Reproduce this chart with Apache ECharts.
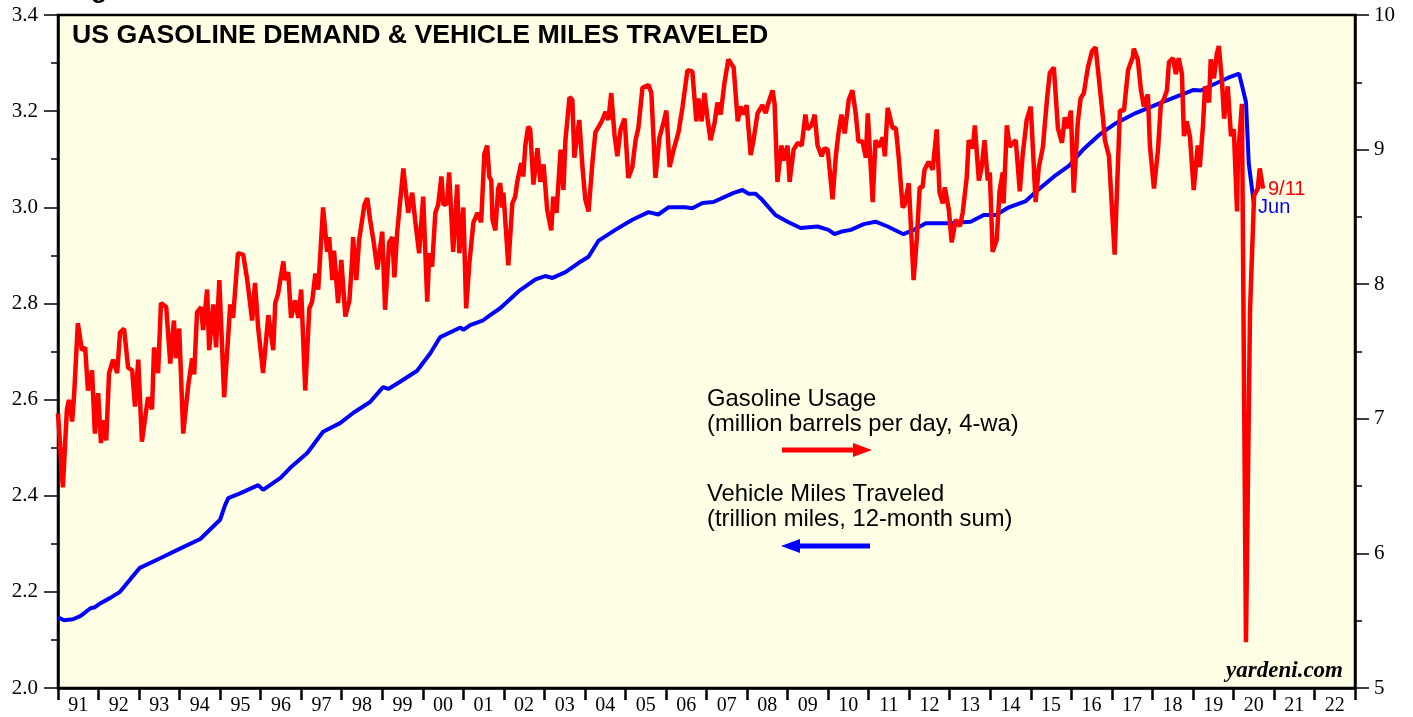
<!DOCTYPE html>
<html>
<head>
<meta charset="utf-8">
<title>US Gasoline Demand & Vehicle Miles Traveled</title>
<script src="https://cdn.jsdelivr.net/npm/echarts@6.0.0/dist/echarts.min.js"></script>
<style>
  html, body { margin: 0; padding: 0; background: #fff; }
  #chart { width: 1413px; height: 717px; }
</style>
</head>
<body>
<div id="chart"></div>
<script>
// year labels shown under the axis (one per band)
const yearLabels = ['91','92','93','94','95','96','97','98','99','00','01','02','03','04','05','06',
  '07','08','09','10','11','12','13','14','15','16','17','18','19','20','21','22']

// vehicle miles traveled, trillion miles, 12-month sum (left axis)
const milesData = [
  [1991.00,2.147],[1991.15,2.141],[1991.37,2.143],[1991.56,2.150],[1991.80,2.166],[1991.91,2.168],
  [1992.04,2.176],[1992.30,2.188],[1992.53,2.200],[1992.80,2.228],[1993.02,2.250],[1993.52,2.270],[1994.01,2.290],[1994.51,2.310],
  [1995.00,2.350],[1995.12,2.380],[1995.20,2.395],[1995.49,2.405],[1995.94,2.422],[1996.06,2.412],
  [1996.49,2.437],[1996.73,2.458],[1997.15,2.489],[1997.54,2.533],[1997.96,2.551],[1998.28,2.572],
  [1998.70,2.595],[1999.02,2.626],[1999.15,2.622],[1999.44,2.637],[1999.86,2.660],[2000.19,2.697],
  [2000.43,2.730],[2000.93,2.750],[2001.00,2.745],[2001.17,2.755],[2001.49,2.765],[2001.67,2.776],
  [2001.91,2.790],[2002.36,2.825],[2002.78,2.850],[2003.02,2.857],[2003.20,2.853],[2003.52,2.865],
  [2003.84,2.884],[2004.09,2.897],[2004.33,2.930],[2004.75,2.953],[2005.17,2.974],[2005.57,2.990],
  [2005.81,2.985],[2006.06,3.000],[2006.48,3.000],[2006.65,2.998],[2006.90,3.009],[2007.17,3.011],
  [2007.67,3.030],[2007.89,3.036],[2008.04,3.028],[2008.21,3.028],[2008.38,3.015],[2008.70,2.984],
  [2009.00,2.970],[2009.32,2.957],[2009.74,2.960],[2010.01,2.953],[2010.16,2.944],[2010.31,2.949],
  [2010.56,2.953],[2010.88,2.965],[2011.17,2.970],[2011.47,2.960],[2011.86,2.944],[2012.11,2.953],
  [2012.41,2.967],[2012.98,2.967],[2013.52,2.970],[2013.84,2.984],[2014.14,2.984],[2014.46,3.000],
  [2014.88,3.013],[2015.12,3.032],[2015.62,3.067],[2015.94,3.086],[2016.28,3.119],[2016.68,3.150],
  [2017.10,3.175],[2017.59,3.196],[2018.28,3.220],[2019.02,3.244],[2019.20,3.243],[2019.52,3.256],
  [2019.86,3.269],[2020.14,3.278],[2020.31,3.219],[2020.38,3.090],[2020.51,3.005]
]

// gasoline usage, million barrels per day, 4-wa (right axis)
const gasData = [
  [1991.00,7.04],[1991.12,6.49],[1991.22,7.07],[1991.27,7.14],[1991.35,6.98],[1991.40,7.19],[1991.49,7.71],
  [1991.59,7.51],[1991.67,7.53],[1991.74,7.21],[1991.84,7.36],[1991.91,6.89],[1991.99,7.19],[1992.06,6.82],
  [1992.11,6.99],[1992.19,6.84],[1992.26,7.34],[1992.36,7.44],[1992.46,7.34],[1992.53,7.64],[1992.63,7.67],
  [1992.73,7.38],[1992.83,7.36],[1992.90,7.09],[1992.98,7.44],[1993.07,6.83],[1993.22,7.16],[1993.32,7.07],
  [1993.37,7.53],[1993.47,7.34],[1993.54,7.86],[1993.67,7.83],[1993.77,7.41],[1993.86,7.73],[1993.91,7.45],
  [1993.99,7.67],[1994.09,6.89],[1994.21,7.24],[1994.31,7.45],[1994.36,7.33],[1994.43,7.79],[1994.53,7.83],
  [1994.58,7.66],[1994.68,7.96],[1994.73,7.51],[1994.83,7.85],[1994.90,7.53],[1994.98,8.03],[1995.10,7.16],
  [1995.25,7.85],[1995.32,7.75],[1995.44,8.23],[1995.57,8.22],[1995.67,8.03],[1995.79,7.73],[1995.86,8.01],
  [1995.94,7.67],[1996.06,7.34],[1996.19,7.77],[1996.31,7.51],[1996.36,7.86],[1996.43,7.93],[1996.56,8.17],
  [1996.60,8.03],[1996.68,8.09],[1996.75,7.75],[1996.85,7.88],[1996.93,7.75],[1997.00,7.96],[1997.10,7.21],
  [1997.20,7.82],[1997.27,7.87],[1997.35,8.08],[1997.42,7.96],[1997.54,8.57],[1997.64,8.24],[1997.69,8.35],
  [1997.77,8.03],[1997.81,8.25],[1997.91,7.86],[1997.99,8.18],[1998.09,7.76],[1998.19,7.88],[1998.26,8.20],
  [1998.28,8.35],[1998.36,8.03],[1998.43,8.33],[1998.56,8.59],[1998.63,8.64],[1998.70,8.48],[1998.78,8.33],
  [1998.88,8.11],[1999.00,8.39],[1999.07,7.81],[1999.17,8.31],[1999.25,8.35],[1999.30,8.05],[1999.37,8.39],
  [1999.52,8.86],[1999.57,8.72],[1999.64,8.53],[1999.74,8.68],[1999.81,8.48],[1999.91,8.23],[2000.01,8.65],
  [2000.11,7.87],[2000.16,8.23],[2000.23,8.13],[2000.31,8.53],[2000.38,8.59],[2000.46,8.80],[2000.51,8.59],
  [2000.60,8.60],[2000.65,8.83],[2000.75,8.24],[2000.85,8.74],[2000.90,8.23],[2001.00,8.57],[2001.07,7.82],
  [2001.15,8.16],[2001.25,8.46],[2001.35,8.53],[2001.44,8.46],[2001.52,8.97],[2001.59,9.03],[2001.64,8.80],
  [2001.69,8.77],[2001.72,8.48],[2001.79,8.40],[2001.86,8.71],[2001.91,8.75],[2001.96,8.57],[2001.99,8.68],
  [2002.11,8.14],[2002.21,8.60],[2002.28,8.65],[2002.33,8.76],[2002.43,8.90],[2002.48,8.80],[2002.53,9.03],
  [2002.60,9.17],[2002.65,9.15],[2002.73,8.74],[2002.83,9.01],[2002.90,8.76],[2002.98,8.89],[2003.07,8.55],
  [2003.17,8.40],[2003.22,8.65],[2003.30,8.53],[2003.40,9.00],[2003.47,8.70],[2003.52,9.07],[2003.62,9.39],
  [2003.69,9.37],[2003.74,8.94],[2003.86,9.22],[2003.94,8.87],[2004.01,8.63],[2004.09,8.54],[2004.19,8.92],
  [2004.26,9.13],[2004.36,9.18],[2004.43,9.22],[2004.51,9.28],[2004.58,9.22],[2004.65,9.42],[2004.73,9.11],
  [2004.80,8.95],[2004.88,9.15],[2004.98,9.23],[2005.07,8.79],[2005.17,8.87],[2005.25,9.07],[2005.32,9.16],
  [2005.42,9.46],[2005.57,9.48],[2005.64,9.42],[2005.74,8.79],[2005.84,9.09],[2005.94,9.20],[2006.01,9.29],
  [2006.09,8.87],[2006.19,9.00],[2006.31,9.13],[2006.41,9.32],[2006.53,9.59],[2006.65,9.58],[2006.75,9.21],
  [2006.80,9.38],[2006.88,9.21],[2006.95,9.42],[2007.02,9.24],[2007.10,9.07],[2007.20,9.20],[2007.27,9.35],
  [2007.35,9.26],[2007.44,9.49],[2007.54,9.67],[2007.67,9.61],[2007.77,9.21],[2007.84,9.32],[2007.91,9.26],
  [2007.99,9.33],[2008.09,8.96],[2008.16,9.07],[2008.26,9.27],[2008.38,9.33],[2008.46,9.27],[2008.53,9.35],
  [2008.63,9.44],[2008.68,9.34],[2008.75,8.76],[2008.85,9.03],[2008.90,8.92],[2009.00,9.03],[2009.05,8.76],
  [2009.15,9.00],[2009.25,9.05],[2009.35,9.03],[2009.44,9.26],[2009.49,9.15],[2009.59,9.18],[2009.67,9.26],
  [2009.74,9.03],[2009.84,8.95],[2009.91,9.01],[2009.99,9.00],[2010.11,8.63],[2010.19,8.95],[2010.26,9.13],
  [2010.33,9.26],[2010.41,9.12],[2010.51,9.37],[2010.60,9.44],[2010.68,9.27],[2010.75,9.06],[2010.85,9.06],
  [2010.93,8.94],[2010.98,9.27],[2011.10,8.61],[2011.17,9.07],[2011.25,9.02],[2011.35,9.09],[2011.40,8.95],
  [2011.47,9.31],[2011.59,9.16],[2011.67,9.16],[2011.74,8.95],[2011.84,8.57],[2011.89,8.59],[2011.99,8.75],
  [2012.11,8.03],[2012.19,8.34],[2012.26,8.72],[2012.33,8.72],[2012.38,8.85],[2012.48,8.91],[2012.58,8.85],
  [2012.68,9.15],[2012.75,8.68],[2012.83,8.60],[2012.88,8.72],[2012.98,8.55],[2013.05,8.31],[2013.15,8.48],
  [2013.25,8.43],[2013.32,8.53],[2013.42,8.79],[2013.47,9.07],[2013.57,9.01],[2013.62,9.18],[2013.72,8.77],
  [2013.79,8.87],[2013.86,9.07],[2013.94,8.77],[2013.99,8.83],[2014.06,8.24],[2014.16,8.33],[2014.23,8.69],
  [2014.31,8.83],[2014.33,8.60],[2014.41,9.18],[2014.48,9.02],[2014.56,9.05],[2014.63,9.07],[2014.73,8.69],
  [2014.80,8.96],[2014.90,9.22],[2015.00,9.32],[2015.12,8.61],[2015.20,8.87],[2015.30,9.02],[2015.40,9.37],
  [2015.47,9.57],[2015.57,9.61],[2015.67,9.16],[2015.77,9.05],[2015.84,9.24],[2015.91,9.16],[2015.99,9.29],
  [2016.06,8.68],[2016.16,9.20],[2016.23,9.38],[2016.31,9.42],[2016.41,9.61],[2016.51,9.73],[2016.60,9.76],
  [2016.68,9.53],[2016.78,9.24],[2016.83,9.07],[2016.93,8.95],[2017.07,8.22],[2017.20,9.29],[2017.30,9.29],
  [2017.40,9.59],[2017.52,9.69],[2017.54,9.75],[2017.64,9.67],[2017.72,9.44],[2017.79,9.32],[2017.89,9.41],
  [2017.94,9.03],[2018.04,8.71],[2018.14,9.00],[2018.21,9.34],[2018.28,9.37],[2018.36,9.44],[2018.41,9.65],
  [2018.51,9.68],[2018.58,9.56],[2018.65,9.68],[2018.73,9.56],[2018.78,9.10],[2018.85,9.21],[2018.93,9.09],
  [2019.02,8.70],[2019.12,9.03],[2019.17,8.87],[2019.25,9.18],[2019.30,9.47],[2019.40,9.35],[2019.44,9.67],
  [2019.52,9.53],[2019.59,9.71],[2019.64,9.77],[2019.72,9.50],[2019.77,9.23],[2019.86,9.47],[2019.94,9.10],
  [2020.01,9.15],[2020.09,8.54],[2020.11,8.93],[2020.21,9.34],[2020.31,5.34],[2020.41,7.80],[2020.51,8.66],
  [2020.60,8.71],[2020.65,8.86],[2020.73,8.71]
]

const sans = '"Liberation Sans", Arial, sans-serif'
const serif = '"Liberation Serif", "Times New Roman", serif'

const chart = echarts.init(document.getElementById('chart'))

const yAxisCommon = {
    type: 'value',
    axisLine: { show: true, lineStyle: { color: '#000', width: 2.5 } },
    axisTick: { show: true, inside: false, length: 14, lineStyle: { color: '#000', width: 1.5 } },
    minorTick: { show: true, splitNumber: 2, length: 7, lineStyle: { color: '#000', width: 1.5 } },
    splitLine: { show: false },
    axisLabel: { color: '#000', fontFamily: serif, fontSize: 21 }
}

const option = {
    animation: false,
    backgroundColor: '#fff',
    grid: {
        left: 58, right: 58, top: 15, bottom: 29,
        show: true,
        backgroundColor: '#ffffe6',
        borderColor: '#000',
        borderWidth: 2.5
    },
    xAxis: [
        { type: 'value', min: 1991, max: 2023, show: false },
        {
            type: 'category',
            position: 'bottom',
            data: yearLabels,
            boundaryGap: true,
            axisLine: { show: true, lineStyle: { color: '#000', width: 2.5 } },
            axisTick: { show: true, inside: false, length: 12, lineStyle: { color: '#000', width: 2.5 } },
            axisLabel: { color: '#000', fontFamily: serif, fontSize: 20, margin: 8, interval: 0 }
        }
    ],
    yAxis: [
        Object.assign({}, yAxisCommon, {
            position: 'left', min: 2.0, max: 3.4, interval: 0.2,
            axisLabel: Object.assign({}, yAxisCommon.axisLabel, {
                margin: 20,
                formatter: v => v.toFixed(1)
            })
        }),
        Object.assign({}, yAxisCommon, {
            position: 'right', min: 5, max: 10, interval: 1,
            axisLabel: Object.assign({}, yAxisCommon.axisLabel, { margin: 19 })
        })
    ],
    series: [
        {
            name: 'Vehicle Miles Traveled',
            type: 'line',
            xAxisIndex: 0,
            yAxisIndex: 0,
            data: milesData,
            showSymbol: false,
            lineStyle: { color: '#0000ff', width: 4 },
            itemStyle: { color: '#0000ff' },
            endLabel: {
                show: true, formatter: 'Jun', color: '#0000ff',
                fontFamily: sans, fontSize: 20, distance: 4, offset: [0, 3]
            }
        },
        {
            name: 'Gasoline Usage',
            type: 'line',
            xAxisIndex: 0,
            yAxisIndex: 1,
            data: gasData,
            showSymbol: false,
            lineStyle: { color: '#ff0000', width: 4.5 },
            itemStyle: { color: '#ff0000' },
            endLabel: {
                show: true, formatter: '9/11', color: '#ff0000',
                fontFamily: sans, fontSize: 20, distance: 5, offset: [0, 1]
            }
        }
    ],
    graphic: [
        {
            type: 'text', left: 68, top: -22,
            style: { text: 'Figure 1.', font: 'bold 26px ' + sans, fill: '#000' }
        },
        {
            type: 'text', left: 72, top: 22,
            style: { text: 'US GASOLINE DEMAND & VEHICLE MILES TRAVELED', font: 'bold 26.7px ' + sans, fill: '#000' }
        },
        {
            type: 'text', left: 707, top: 387,
            style: { text: 'Gasoline Usage\n(million barrels per day, 4-wa)', font: '23.8px ' + sans, fill: '#000', lineHeight: 25 }
        },
        {
            type: 'line',
            shape: { x1: 782, y1: 450, x2: 856, y2: 450 },
            style: { stroke: '#ff0000', lineWidth: 5 }
        },
        {
            type: 'polygon',
            shape: { points: [[853, 443], [872, 450], [853, 457]] },
            style: { fill: '#ff0000' }
        },
        {
            type: 'text', left: 707, top: 482,
            style: { text: 'Vehicle Miles Traveled\n(trillion miles, 12-month sum)', font: '23.8px ' + sans, fill: '#000', lineHeight: 25 }
        },
        {
            type: 'line',
            shape: { x1: 797, y1: 546, x2: 870, y2: 546 },
            style: { stroke: '#0000ff', lineWidth: 5 }
        },
        {
            type: 'polygon',
            shape: { points: [[800, 539], [781, 546], [800, 553]] },
            style: { fill: '#0000ff' }
        },
        {
            type: 'text', right: 70, top: 660,
            style: { text: 'yardeni.com', font: 'italic bold 23px ' + serif, fill: '#000' }
        }
    ]
}

chart.setOption(option)
</script>
</body>
</html>
